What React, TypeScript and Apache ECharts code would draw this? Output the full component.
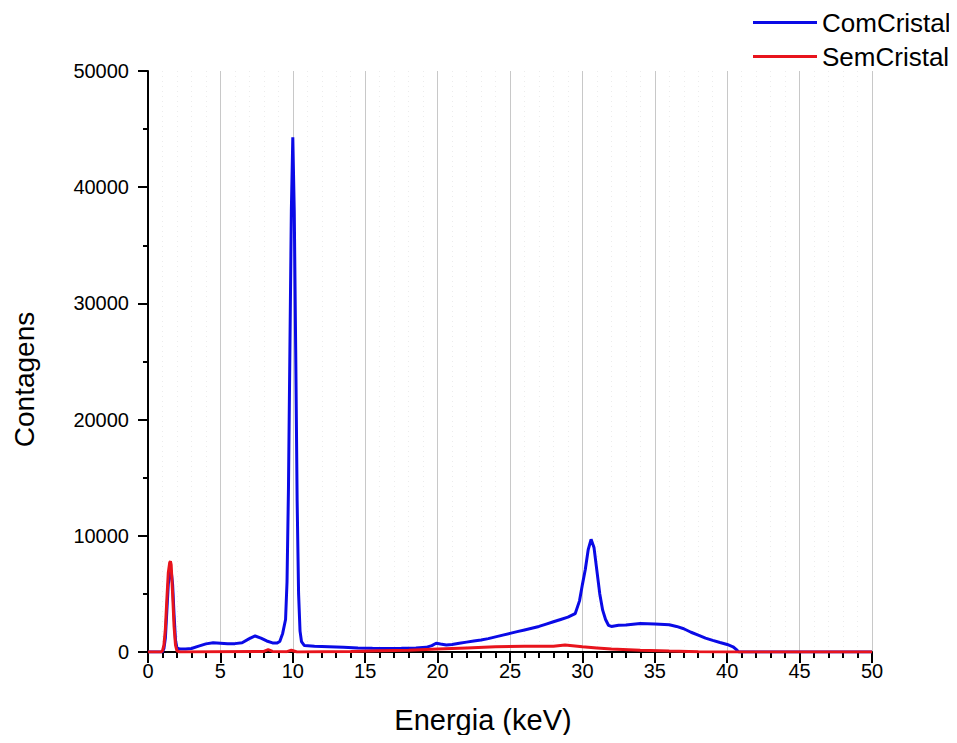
import React, { useEffect, useRef } from "react";
import * as echarts from "echarts";

const seriesNames = ["ComCristal", "SemCristal"];

const energiaCom = [
  0, 0.5, 1.0, 1.1, 1.2, 1.3, 1.4, 1.5, 1.6, 1.7, 1.8, 1.9, 2.0, 2.2, 2.6, 3.0, 3.5, 4.0, 4.5, 5.0,
  5.5, 6.0, 6.5, 7.0, 7.4, 7.8, 8.2, 8.6, 8.9, 9.1, 9.3, 9.5, 9.6, 9.7, 9.8, 9.9, 10.0, 10.1, 10.2,
  10.3, 10.4, 10.5, 10.6, 10.8, 11.5, 12.5, 13.5, 14.5, 15.5, 16.5, 17.5, 18.5, 19.2, 19.6, 19.9,
  20.2, 20.6, 21.0, 21.5, 22.0, 22.5, 23.0, 23.5, 24.0, 24.5, 25.0, 25.5, 26.0, 26.5, 27.0, 27.5,
  28.0, 28.5, 29.0, 29.5, 29.8, 30.0, 30.2, 30.4, 30.6, 30.8, 31.0, 31.2, 31.4, 31.6, 31.8, 32.0,
  32.5, 33.0, 34.0, 35.0, 36.0, 36.5, 37.0, 37.5, 38.0, 38.5, 39.0, 39.5, 40.0, 40.4, 40.6, 40.8,
  45.0, 50.0,
];
const contagensCom = [
  0, 0, 0, 300, 1200, 3500, 5800, 6900, 7000, 5800, 3200, 1000, 350, 250, 250, 300, 500, 700, 800, 750,
  700, 720, 800, 1150, 1380, 1200, 950, 780, 770, 900, 1600, 2800, 6000, 14000, 26000, 38000, 44300,
  38000, 26000, 13000, 5000, 1800, 900, 550, 500, 450, 400, 350, 320, 300, 320, 350, 400, 550, 750,
  680, 600, 650, 750, 850, 950, 1030, 1150, 1300, 1450, 1600, 1750, 1900, 2050, 2200, 2400, 2600,
  2800, 3000, 3300, 4400, 5800, 7100, 8800, 9700, 9000, 7000, 5000, 3600, 2800, 2300, 2200, 2300,
  2330, 2450, 2420, 2340, 2200, 2000, 1700, 1450, 1200, 1000, 820, 650, 450, 250, 0, 0, 0,
];

const energiaSem = [
  0, 0.9, 1.0, 1.1, 1.2, 1.3, 1.4, 1.5, 1.55, 1.6, 1.7, 1.8, 1.9, 2.0, 2.2, 8.0, 8.3, 8.6, 9.6, 9.9,
  10.3, 14.0, 16.0, 18.0, 20.0, 22.0, 24.0, 26.0, 28.0, 28.8, 30.0, 31.0, 32.0, 34.0, 36.0, 38.0,
  40.0, 50.0,
];
const contagensSem = [
  0, 0, 100, 600, 2000, 4500, 6800, 7700, 7800, 7500, 5000, 2200, 600, 100, 0, 50, 200, 50, 30, 150,
  0, 50, 100, 150, 250, 350, 450, 500, 500, 600, 450, 350, 250, 150, 80, 30, 0, 0,
];

const xTicks = [0, 5, 10, 15, 20, 25, 30, 35, 40, 45, 50];
const yTicks = [0, 10000, 20000, 30000, 40000, 50000];

const FONT = "'Liberation Sans', Arial, sans-serif";

export default function App() {
  const ref = useRef<HTMLDivElement>(null);
  useEffect(() => {
    if (!ref.current) return;
    const chart = echarts.init(ref.current, undefined, { renderer: "svg" });
    const com = energiaCom.map((x, i) => [x, contagensCom[i]]);
    const sem = energiaSem.map((x, i) => [x, contagensSem[i]]);
    chart.setOption({
      animation: false,
      backgroundColor: "#ffffff",
      textStyle: { fontFamily: FONT },
      grid: { left: 148, right: 85, top: 71, bottom: 91, containLabel: false },
      legend: {
        orient: "vertical",
        left: 748,
        top: 4,
        icon: "rect",
        itemWidth: 64,
        itemHeight: 3,
        itemGap: 7,
        data: seriesNames,
        textStyle: { fontSize: 26, color: "#000", lineHeight: 27, fontFamily: FONT },
      },
      xAxis: {
        type: "value",
        min: xTicks[0],
        max: xTicks[xTicks.length - 1],
        interval: 5,
        name: "Energia (keV)",
        nameLocation: "middle",
        nameGap: 53,
        nameTextStyle: { fontSize: 29, color: "#000", fontFamily: FONT, padding: [0, 54, 0, 0] },
        axisLine: { show: true, onZero: false, lineStyle: { color: "#000", width: 2 } },
        axisTick: { show: true, inside: false, length: 11, lineStyle: { color: "#000", width: 2 } },
        minorTick: { show: true, splitNumber: 5, length: 6, lineStyle: { color: "#000", width: 2 } },
        axisLabel: { fontSize: 20, color: "#000", margin: 9, fontFamily: FONT },
        splitLine: { show: true, lineStyle: { color: "#c8c8c8", width: 1 } },
        minorSplitLine: { show: true, lineStyle: { color: "#ececec", width: 1, type: [1, 4] } },
      },
      yAxis: {
        type: "value",
        min: yTicks[0],
        max: yTicks[yTicks.length - 1],
        interval: 10000,
        name: "Contagens",
        nameLocation: "middle",
        nameGap: 110,
        nameTextStyle: { fontSize: 28, color: "#000", fontFamily: FONT, padding: [0, 36, 0, 0] },
        axisLine: { show: true, lineStyle: { color: "#000", width: 2 } },
        axisTick: { show: true, inside: false, length: 10, lineStyle: { color: "#000", width: 2 } },
        minorTick: { show: true, splitNumber: 2, length: 5, lineStyle: { color: "#000", width: 2 } },
        axisLabel: {
          fontSize: 20,
          color: "#000",
          margin: 19,
          fontFamily: FONT,
          formatter: (v: number) => String(v),
        },
        splitLine: { show: false },
      },
      series: [
        {
          name: seriesNames[0],
          type: "line",
          data: com,
          showSymbol: false,
          symbol: "none",
          lineStyle: { color: "#0a0ae6", width: 3 },
          itemStyle: { color: "#0a0ae6" },
        },
        {
          name: seriesNames[1],
          type: "line",
          data: sem,
          showSymbol: false,
          symbol: "none",
          lineStyle: { color: "#e8141c", width: 3 },
          itemStyle: { color: "#e8141c" },
        },
      ],
    });
    return () => chart.dispose();
  }, []);
  return <div ref={ref} style={{ width: 957, height: 743, margin: -8 }} />;
}
